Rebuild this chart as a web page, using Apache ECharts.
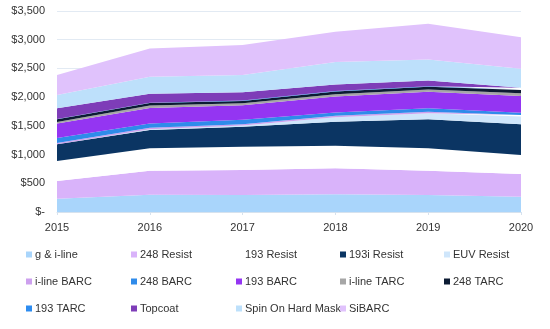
<!DOCTYPE html>
<html>
<head>
<meta charset="utf-8">
<script src="https://cdn.jsdelivr.net/npm/echarts@6/dist/echarts.min.js"></script>
<style>html,body{margin:0;padding:0;background:#fff;}#c{width:550px;height:329px;}</style>
</head>
<body>
<div id="c"></div>
<script>
const years = ['2015', '2016', '2017', '2018', '2019', '2020'];
const yTicks = [0, 500, 1000, 1500, 2000, 2500, 3000, 3500];
const seriesNames = ['g & i-line', '248 Resist', '193 Resist', '193i Resist', 'EUV Resist', 'i-line BARC', '248 BARC', '193 BARC', 'i-line TARC', '248 TARC', '193 TARC', 'Topcoat', 'Spin On Hard Mask', 'SiBARC'];
const gILine      = [230, 300, 295, 308, 296, 267];
const resist248   = [310, 420, 435, 453, 423, 395];
const resist193   = [350, 390, 405, 394, 390, 330];
const resist193i  = [290, 320, 350, 417, 505, 535];
const euvResist   = [0, 10, 20, 80, 104, 134];
const ilineBarc   = [23, 25, 25, 23, 29, 29];
const barc248     = [87, 75, 75, 58, 58, 40];
const barc193     = [250, 273, 255, 279, 290, 290];
const ilineTarc   = [29, 40, 35, 40, 40, 46];
const tarc248     = [46, 46, 40, 46, 46, 58];
const tarc193     = [5, 5, 5, 8, 10, 10];
const topcoat     = [186, 157, 145, 116, 99, 29];
const spinOnHM    = [232, 296, 302, 389, 366, 331];
const siBarc      = [348, 488, 522, 528, 621, 551];
const seriesValues = [gILine, resist248, resist193, resist193i, euvResist, ilineBarc, barc248, barc193, ilineTarc, tarc248, tarc193, topcoat, spinOnHM, siBarc];
const colors = ['#A9D5FB', '#D9B3FA', '#FFFFFF', '#0B3563', '#CFE6FB', '#CDA0EE', '#2F8BEA', '#9435F2', '#A6A6A6', '#0C1B33', '#2D8CF0', '#7E3DB8', '#BDE0FB', '#E0C2FC'];

const font = 'Liberation Sans, Arial, sans-serif';
const chart = echarts.init(document.getElementById('c'), null, {renderer: 'canvas'});

const colX = [26, 131, 236, 340, 444];
const legends = seriesNames.map((n, i) => ({
  data: [n],
  left: colX[i % 5],
  top: 249 + Math.floor(i / 5) * 27,
  orient: 'horizontal',
  icon: 'rect',
  itemWidth: 6,
  itemHeight: 6,
  itemGap: 0,
  padding: 0,
  selectedMode: false,
  textStyle: {fontFamily: font, fontSize: 11, color: '#333333', padding: [0, 0, 0, -2]}
}));

chart.setOption({
  animation: false,
  color: colors,
  grid: {left: 57, right: 29, top: 11, bottom: 117, containLabel: false},
  legend: legends,
  xAxis: {
    type: 'category',
    data: years,
    boundaryGap: false,
    axisLine: {lineStyle: {color: '#D6E2EE', width: 1}},
    axisTick: {show: true, length: 3, lineStyle: {color: '#D6E2EE'}},
    axisLabel: {fontFamily: font, fontSize: 11, color: '#333333', margin: 10}
  },
  yAxis: {
    type: 'value',
    min: yTicks[0],
    max: yTicks[yTicks.length - 1],
    interval: 500,
    axisLine: {show: false},
    axisTick: {show: false},
    splitLine: {lineStyle: {color: '#E2EAF3', width: 1}},
    axisLabel: {
      fontFamily: font, fontSize: 11, color: '#333333', margin: 12,
      formatter: v => v === 0 ? '$-' : '$' + v.toLocaleString('en-US')
    }
  },
  series: seriesNames.map((n, i) => ({
    name: n,
    type: 'line',
    stack: 'total',
    data: seriesValues[i],
    symbol: 'none',
    lineStyle: {width: 0},
    areaStyle: {color: colors[i], opacity: 1},
    itemStyle: {color: colors[i]}
  }))
});
</script>
</body>
</html>
